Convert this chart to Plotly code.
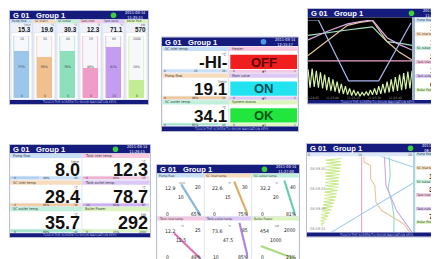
import plotly.graph_objects as go

# The page body keeps the browser's default 8px margin, so the figure is
# drawn 8px right/down inside the 439x259 window: map reference pixels accordingly.
OFF = 8
FW, FH = 431, 251
NAVY = "#161c7e"
NAVY_TXT = "#aeb8ea"
GREEN_ICON = "#3ccf3c"
BLUE_ICON = "#4a9ae8"
NARROW = "Liberation Sans Narrow, DejaVu Sans Condensed, Liberation Sans, sans-serif"
BOLD = "Liberation Sans, Arial, sans-serif"
CELL_LINE = "#c9d0e4"

# ---------------- data ----------------
channels = ["Pump flow", "SC inlet temp.", "SC outlet temp.",
            "Tank inlet temp.", "Tank outlet temp.", "Boiler Power"]
units = ["l/min", "°C", "°C", "°C", "°C", "kW"]
scale_lo = [0, 0, 0, 0, 10, 0]
scale_hi = [20, 30, 40, 25, 85, 2000]
decimals = [1, 1, 1, 1, 1, 0]
light = ["#c6dff6", "#f7dcbd", "#c0f0db", "#f7c8e1", "#ddc8f6", "#ddf4bf"]
strong = ["#9cc6ec", "#f0c08e", "#8ee0bc", "#f09cc8", "#c49cf0", "#c4ec94"]
needle = ["#86b8de", "#dcae6e", "#6ccdae", "#dc72b2", "#ac86e2", "#acda80"]

# screen 1: bar view
bar_values = [15.3, 19.6, 30.3, 12.3, 71.1, 570]

# screen 2: big digits + status
big_channel = [1, 0, 2]
big_values = [None, 19.1, 34.1]
big_text = ["-HI-", "19.1", "34.1"]
status_names = ["Heater", "Main valve", "System status"]
status_text = ["OFF", "ON", "OK"]
status_fill = ["#f01e1e", "#22e4f0", "#22e63e"]
status_dark = ["#5c0000", "#00505a", "#00561a"]

# screen 3: horizontal trend (values in % of scale)
trend_t_pump = [0, 10, 39, 68, 99]
trend_pump = [100, 100, 21, 21, 96]
trend_t = [0, 20, 38, 50, 62, 76, 88, 100]
trend_scin = [54, 75, 93, 97, 99, 72, 58, 48]
trend_scout = [80, 84, 87, 89, 91, 72, 70, 67]
trend_tkout = [74, 86, 95, 98, 100, 77, 68, 61]
trend_t_tkin = [0, 100]
trend_tkin = [47, 47]
trend_t_boiler = [0, 2, 4, 6, 8, 10, 12, 14, 16, 18, 20, 22, 24, 26, 28, 30, 32, 34,
                  36, 38, 40, 42, 44, 46, 48, 50, 52, 54, 56, 58, 60, 62, 64, 66, 68,
                  70, 72, 74, 76, 78, 80, 82, 84, 86, 88, 90, 92, 94, 96, 98, 100]
trend_boiler = [36, 12, 37, 13, 34, 12, 32, 11, 29, 9, 26, 8, 23, 7, 20, 5, 17, 4,
                14, 3, 11, 2, 9, 2, 7, 1, 6, 2, 7, 2, 9, 3, 11, 3, 14, 4, 17, 5, 20,
                6, 23, 7, 26, 8, 29, 9, 31, 10, 33, 11, 34]
trend_time_labels = ["11:24:45", "11:25:00", "11:25:15", "11:25:30", "11:25:45"]
trend_time_pos = [4, 24, 44, 64, 84]
trend_right_values = ["15.3", "14.6", "26.2", "12.3", "67.4", "456"]

# screen 4: big digits 2x3
digit_values = [8.0, 28.4, 35.7, 12.3, 78.7, 292]
digit_channel = [0, 1, 2, 3, 4, 5]

# screen 5: gauges
gauge_values = [12.9, 22.6, 32.2, 12.2, 73.6, 454]

# screen 6: vertical trend (seconds after 08:59:00 vs. value 0..20)
vt_boiler_t = [17.5, 17.9, 18.3, 18.7, 19.1, 19.5, 19.9, 20.3, 20.7, 21.1, 21.5, 21.9,
               22.3, 22.7, 23.1, 23.5, 23.9, 24.3, 24.7, 25.1, 25.5, 25.9, 26.3, 26.7,
               27.1, 27.5, 27.9, 28.3, 28.7, 29.1, 29.5, 29.9, 30.3, 30.7, 31.1, 31.5,
               31.9, 32.3, 32.7, 33.1, 33.5, 33.9, 34.3]
vt_boiler = [6.5, 3.5, 6.4, 3.6, 6.5, 3.5, 6.3, 3.5, 6.3, 3.4, 6.2, 3.5, 6.1, 3.5, 6.0,
             3.4, 6.0, 3.4, 5.9, 3.4, 5.8, 3.3, 5.6, 3.3, 5.5, 3.2, 5.3, 3.1, 5.1, 3.0,
             4.9, 2.9, 4.6, 2.8, 4.3, 2.7, 4.0, 2.6, 3.7, 2.6, 3.3, 2.7, 3.0]
vt_tkin_t = [16.9, 35.9]
vt_tkin = [10.3, 10.3]
vt_scin_t = [16.9, 18.4, 19.25, 22.6, 24.25, 28.4, 30.5, 33.8, 35.9]
vt_scin = [10.75, 10.75, 12.0, 12.0, 12.8, 13.0, 14.1, 18.2, 19.4]
vt_scout_t = [16.9, 21.75, 25.1, 28.4, 31.75, 35.9]
vt_scout = [15.5, 15.7, 15.3, 16.0, 16.4, 16.4]
vt_tkout_t = [16.9, 24.25, 30.5, 35.9]
vt_tkout = [14.6, 14.9, 16.9, 19.8]
vt_pump_t = [16.9, 19.9, 23.2, 35.9]
vt_pump = [13.8, 20.6, 20.6, 4.65]
vt_time_labels = ["08:59:20", "08:59:25", "08:59:30", "08:59:35"]
vt_time_pos = [20, 25, 30, 35]
vt_right_values = ["6.3", "19.4", "30.8", "4.6", "72.5", "448"]


def fmt(v, d):
    return f"{v:.{d}f}"


def pct(v, lo, hi):
    return (v - lo) / (hi - lo)


# ---------------- helpers (arguments in reference-image pixels) ----------------
fig = go.Figure()
shapes, annos = [], []
lay = {}


def px(x):
    return (x - OFF) / FW


def py(y):
    return 1 - (y - OFF) / FH


def xd(a, b):
    return [max(0.0, px(a)), min(1.0, px(b))]


def yd(a, b):
    return [max(0.0, py(b)), min(1.0, py(a))]


def R(x0, y0, x1, y1, fill, line=None, lw=0):
    shapes.append(dict(type="rect", xref="paper", yref="paper",
                       x0=px(x0), x1=px(x1), y0=py(y1), y1=py(y0),
                       fillcolor=fill, layer="below",
                       line=dict(color=line or "rgba(0,0,0,0)", width=lw)))


def C(x, y, r, fill):
    shapes.append(dict(type="circle", xref="paper", yref="paper",
                       x0=px(x - r), x1=px(x + r), y0=py(y + r), y1=py(y - r),
                       fillcolor=fill, line=dict(width=0), layer="below"))


def T(x, y, s, size, color="#333", anchor="left", bold=False, fam=NARROW,
      xref="paper", yref="paper"):
    annos.append(dict(xref=xref, yref=yref,
                      x=px(x) if xref == "paper" else x,
                      y=py(y) if yref == "paper" else y,
                      text=s, showarrow=False, xanchor=anchor, yanchor="middle",
                      borderpad=0,
                      font=dict(size=size, color=color, family=fam,
                                weight=700 if bold else 400)))


def frame(x0, y0, x1, y1):
    R(x0 - 0.5, y0 - 0.5, x1 + 0.5, y1 + 0.5, "white", "#8a92b8", 0.6)


def header(x0, y0, x1, date, clock, icon=GREEN_ICON):
    R(x0, y0, x1, y0 + 8.5, NAVY)
    T(x0 + 2, y0 + 4.6, "G 01", 7.6, "white", bold=True, fam=BOLD)
    T(x0 + 25, y0 + 4.6, "Group 1", 7.6, "white", bold=True, fam=BOLD)
    C(x1 - 34.5, y0 + 4.3, 2.8, icon)
    T(x1 - 0.8, y0 + 4.3, date + "<br>" + clock, 3.9, "white", anchor="right")


def footer(x0, y0, x1, y1):
    R(x0, y0, x1, y1, NAVY)
    T(x0 + 69, (y0 + y1) / 2 + 0.2, "TOUCH THE SCREEN TO SHOW NAVIGATION KEYS",
      3.3, NAVY_TXT, anchor="center")


def hidden_axis(dom, rng, anchor):
    return dict(domain=dom, range=rng, visible=False, fixedrange=True,
                anchor=anchor, showgrid=False, zeroline=False)


# ================= screen 1: bars =================
frame(10, 11, 148, 104)
header(10, 11, 148, "2011-03-14", "11:25:11")
cw = 138 / 6
for i in range(6):
    cx0 = 10 + i * cw
    R(cx0, 19.5, cx0 + cw, 100, "#eef1f9", CELL_LINE, 0.5)
    R(cx0 + 0.4, 19.8, cx0 + cw - 0.4, 23.2, light[i])
    T(cx0 + 1, 21.5, channels[i][:10], 3.1, "#3a3a3a")
    T(cx0 + cw - 1, 24.8, units[i], 3.1, "#555", anchor="right")
    T(cx0 + cw - 1, 29.0, fmt(bar_values[i], decimals[i]), 6.3, "#111",
      anchor="right", bold=True, fam=BOLD)
    R(cx0 + 1.2, 32.5, cx0 + cw - 1.2, 99.3, "white", "#d5dbea", 0.5)
footer(10, 100, 148, 104)

bar_frac = [pct(v, lo, hi) for v, lo, hi in zip(bar_values, scale_lo, scale_hi)]
idx = list(range(6))
fig.add_trace(go.Bar(x=idx, y=[1] * 6, width=0.64, xaxis="x", yaxis="y",
                     marker=dict(color="#f7f8fc", line=dict(color=strong, width=0.6)),
                     hoverinfo="skip", showlegend=False))
fig.add_trace(go.Bar(x=idx, y=bar_frac, width=0.64, xaxis="x", yaxis="y",
                     marker=dict(color=strong, line=dict(width=0)),
                     hoverinfo="skip", showlegend=False))
lay["xaxis"] = hidden_axis(xd(10, 148), [-0.5, 5.5], "y")
lay["yaxis"] = hidden_axis(yd(36, 98), [0, 1], "x")
for i in range(6):
    T(i, 38.8, str(scale_hi[i]), 3.4, "#444", anchor="center", xref="x")
    T(i, 95.8, str(scale_lo[i]), 3.4, "#444", anchor="center", xref="x")
    T(i, 67, f"{int(bar_frac[i] * 100 + 0.5)}%", 3.4, "#333", anchor="center", xref="x")

# ================= screen 2: big digits + status =================
frame(162, 37.5, 298, 131)
header(162, 37.5, 298, "2011-03-14", "12:15:17", BLUE_ICON)
rh2, top2 = 26.7, 46.5
for j in range(3):
    rt = top2 + j * rh2
    ci = big_channel[j]
    R(162.3, rt, 228.7, rt + rh2, "white", CELL_LINE, 0.4)
    R(162.5, rt + 0.3, 228.5, rt + 4.6, light[j])
    T(163.5, rt + 2.5, channels[ci], 3.7, "#3a3a3a")
    T(227.5, rt + 8, units[ci], 3.9, "#444", anchor="right")
    T(227.8, rt + 16.2, big_text[j], 17, "#111", anchor="right", bold=True, fam=BOLD)
    lo, hi = scale_lo[ci], scale_hi[ci]
    T(163.2, rt + 24.9, str(lo), 3.1, "#444")
    T(227.3, rt + 24.9, str(hi), 3.1, "#444", anchor="right")
    if big_values[j] is not None:
        T(195.5, rt + 24.9, f"{int(pct(big_values[j], lo, hi) * 100 + 0.5)}%", 3.1,
          "#333", anchor="center")
    else:
        T(195.5, rt + 24.9, str((lo + hi) // 2), 3.1, "#333", anchor="center")
    # status column
    R(228.7, rt, 297.7, rt + rh2, "white", CELL_LINE, 0.4)
    R(229, rt + 0.3, 297.5, rt + 4.6, light[3 + j])
    T(230.5, rt + 2.5, status_names[j], 3.7, "#3a3a3a")
    R(230.3, rt + 8.3, 297, rt + 22.6, status_fill[j])
    T(263.6, rt + 15.8, status_text[j], 13, status_dark[j], anchor="center",
      bold=True, fam=BOLD)
    R(229, rt + 23.4, 297.5, rt + 26.3, light[3 + j])
    T(231.5, rt + 24.9, "0", 3.1, "#444")
    T(296.5, rt + 24.9, "1", 3.1, "#444", anchor="right")
    T(263.6, rt + 24.9, "▲S", 3.1, "#444", anchor="center")
footer(162, 126.6, 298, 131)

p2_frac = [min(1, pct(v, scale_lo[c], scale_hi[c])) if v is not None else 0
           for v, c in zip(big_values, big_channel)]
rows3 = [0.92, 1.92, 2.92]
fig.add_trace(go.Bar(y=rows3, x=[1, 1, 1], orientation="h", width=0.1,
                     xaxis="x4", yaxis="y4", marker=dict(color=[light[0], light[1], light[2]]),
                     hoverinfo="skip", showlegend=False))
fig.add_trace(go.Bar(y=rows3, x=p2_frac, orientation="h", width=0.1,
                     xaxis="x4", yaxis="y4", marker=dict(color=[strong[0], strong[1], strong[2]]),
                     opacity=0.8, hoverinfo="skip", showlegend=False))
lay["xaxis4"] = hidden_axis(xd(162.5, 228.5), [0, 1], "y4")
lay["yaxis4"] = hidden_axis(yd(top2, top2 + 3 * rh2), [3, 0], "x4")

# ================= screen 3: horizontal trend =================
p3x0, p3x1 = 308, 446
frame(p3x0, 9, p3x1, 103.5)
header(p3x0, 9, p3x1, "2011-03-14", "11:26:20")
R(308, 17.5, 412, 100, "black")
R(412, 17.5, 415, 100, "#9db3cc")
R(415, 17.5, 446, 100, "white")
for i in range(6):
    et = 18.5 + i * 13.9
    R(415.3, et, 446, et + 3.8, light[i])
    T(416, et + 1.9, channels[i], 3.2, "#333")
    T(446, et + 10.3, trend_right_values[i], 7.5, "#111", anchor="right", bold=True, fam=BOLD)
footer(p3x0, 100, p3x1, 103.5)

lay["xaxis2"] = hidden_axis(xd(308, 412), [0, 100], "y2")
lay["yaxis2"] = hidden_axis(yd(20, 97), [0, 100], "x2")
trend_series = [
    (trend_t_tkin, trend_tkin, "#f2a6cc"),
    (trend_t, trend_scout, "#9ee0bf"),
    (trend_t, trend_scin, "#e6c79e"),
    (trend_t, trend_tkout, "#dcaee6"),
    (trend_t_pump, trend_pump, "#a9b6f0"),
    (trend_t_boiler, trend_boiler, "#d6f2a4"),
]
for tx, ty, col in trend_series:
    fig.add_trace(go.Scatter(x=tx, y=ty, mode="lines", xaxis="x2", yaxis="y2",
                             line=dict(color=col, width=1.2), hoverinfo="skip",
                             showlegend=False, cliponaxis=True))
for lbl, tp in zip(trend_time_labels, trend_time_pos):
    T(tp, 98.3, lbl, 3.2, "#9a9a9a", anchor="center", xref="x2")

# ================= screen 4: big digits 2x3 =================
frame(10, 145, 150, 237)
header(10, 145, 150, "2011-03-14", "11:26:15")
rh4, top4 = 26.6, 153.5
cols4 = [(10, 82), (82, 150)]
for c in range(2):
    for j in range(3):
        k = c * 3 + j
        ci = digit_channel[k]
        cx0, cx1 = cols4[c]
        rt = top4 + j * rh4
        R(cx0, rt, cx1, rt + rh4, "white", CELL_LINE, 0.4)
        R(cx0 + 0.3, rt + 0.3, cx1 - 0.3, rt + 4.6, light[ci])
        T(cx0 + 2, rt + 2.5, channels[ci], 3.7, "#3a3a3a")
        T(cx1 - 2, rt + 8, units[ci], 3.6, "#444", anchor="right")
        T(cx1 - 1.5, rt + 16.6, fmt(digit_values[k], decimals[ci]), 18, "#111",
          anchor="right", bold=True, fam=BOLD)
        T(cx0 + 2.5, rt + 24.9, str(scale_lo[ci]), 3.1, "#444")
        T(cx1 - 3, rt + 24.9, str(scale_hi[ci]), 3.1, "#444", anchor="right")
        T((cx0 + cx1) / 2, rt + 24.9,
          f"{int(pct(digit_values[k], scale_lo[ci], scale_hi[ci]) * 100 + 0.5)}%",
          3.1, "#333", anchor="center")
footer(10, 233.3, 150, 237)

for c, (ax, ay) in enumerate([("x5", "y5"), ("x6", "y6")]):
    ks = [c * 3 + j for j in range(3)]
    fr = [pct(digit_values[k], scale_lo[digit_channel[k]], scale_hi[digit_channel[k]]) for k in ks]
    fig.add_trace(go.Bar(y=rows3, x=[1, 1, 1], orientation="h", width=0.11, xaxis=ax, yaxis=ay,
                         marker=dict(color=[light[digit_channel[k]] for k in ks]),
                         hoverinfo="skip", showlegend=False))
    fig.add_trace(go.Bar(y=rows3, x=fr, orientation="h", width=0.11, xaxis=ax, yaxis=ay,
                         marker=dict(color=[strong[digit_channel[k]] for k in ks]),
                         opacity=0.6, hoverinfo="skip", showlegend=False))
    cx0, cx1 = cols4[c]
    lay["xaxis" + ax[1:]] = hidden_axis(xd(cx0 + 0.3, cx1 - 0.3), [0, 1], ay)
    lay["yaxis" + ay[1:]] = hidden_axis(yd(top4, top4 + 3 * rh4), [3, 0], ax)

# ================= screen 5: gauges =================
frame(157, 165, 299, 262)
header(157, 165, 299, "2011-03-14", "11:27:00")
gw = 142 / 3
for k in range(6):
    r_, c_ = divmod(k, 3)
    cx0 = 157 + c_ * gw
    cx1 = cx0 + gw
    st = 173.5 + r_ * 43
    R(cx0, st, cx1, st + 43, "white", CELL_LINE, 0.4)
    R(cx0 + 0.3, st + 0.3, cx1 - 0.3, st + 4, light[k])
    T(cx0 + 1, st + 2.2, channels[k], 3.3, "#3a3a3a")
    gt = st + 4
    lo, hi = scale_lo[k], scale_hi[k]
    fr = pct(gauge_values[k], lo, hi)
    T(cx0 + 13, gt + 10, fmt(gauge_values[k], decimals[k]), 5.2, "#222", anchor="center")
    T(cx0 + 25, gt + 5.5, units[k], 2.8, "#555", anchor="center")
    T(cx1 - 2.5, gt + 9.5, str(hi), 5, "#222", anchor="right")
    mid = (lo + hi) / 2
    T(cx0 + 24, gt + 19.5, str(int(mid)) if mid == int(mid) else str(mid), 5, "#222", anchor="center")
    T(cx0 + 8, gt + 36.5, str(lo), 5, "#222")
    T(cx1 - 1.5, gt + 36.5, f"{int(fr * 100 + 0.5)}%", 5, "#222", anchor="right")
    pname = "polar" if k == 0 else f"polar{k + 1}"
    lay[pname] = dict(
        domain=dict(x=xd(cx0 + 4, cx1 - 1.5), y=yd(gt + 0.5, gt + 38.5)),
        sector=[90, 180], bgcolor="rgba(0,0,0,0)",
        radialaxis=dict(visible=False, range=[0, 1], showgrid=False),
        angularaxis=dict(direction="clockwise", rotation=180, showgrid=False,
                         showline=False, showticklabels=False, ticks="inside",
                         ticklen=3.5, tickwidth=0.8, tickcolor="#8a8a8a",
                         tickvals=list(range(0, 91, 9))))
    ang = fr * 90
    fig.add_trace(go.Scatterpolar(r=[0.04, 0.98], theta=[ang, ang], mode="lines",
                                  subplot=pname, line=dict(color=needle[k], width=2.2),
                                  hoverinfo="skip", showlegend=False))

# ================= screen 6: vertical trend =================
p6x0, p6x1 = 307, 445
frame(p6x0, 144, p6x1, 236.5)
header(p6x0, 144, p6x1, "2011-03-14", "08:59:37")
R(307, 152.5, 413, 156.5, "#dce8f7")
R(307, 156.5, 413, 232.5, "white")
R(413, 152.5, 415.5, 232.5, "#a9d6e2")
R(415.5, 152.5, 445, 232.5, "white")
for i in range(6):
    et = 152.5 + i * 13.6
    R(415.8, et, 445, et + 3.6, light[i])
    T(416.3, et + 1.8, channels[i], 3.2, "#333")
    T(445, et + 10, vt_right_values[i], 7.5, "#111", anchor="right", bold=True, fam=BOLD)
footer(p6x0, 232.5, p6x1, 236.5)

lay["xaxis3"] = hidden_axis(xd(307, 413), [0, 20], "y3")
lay["yaxis3"] = hidden_axis(yd(156.5, 232.5), [36, 17], "x3")
vt_series = [
    (vt_tkin, vt_tkin_t, "#e9a6c9"),
    (vt_scin, vt_scin_t, "#e6c79e"),
    (vt_scout, vt_scout_t, "#8fdcc8"),
    (vt_tkout, vt_tkout_t, "#c9a6ea"),
    (vt_pump, vt_pump_t, "#9ccbe6"),
    (vt_boiler, vt_boiler_t, "#c9ea8c"),
]
for vx, vy, col in vt_series:
    fig.add_trace(go.Scatter(x=vx, y=vy, mode="lines", xaxis="x3", yaxis="y3",
                             line=dict(color=col, width=1.1), hoverinfo="skip",
                             showlegend=False))
for lbl, tp in zip(vt_time_labels, vt_time_pos):
    T(308.5, tp, lbl, 3.8, "#8a8a8a", yref="y3")
T(0, 154.5, "0", 3.4, "#555", xref="x3")
T(10, 154.5, "10", 3.4, "#555", anchor="center", xref="x3")
T(20, 154.5, "20", 3.4, "#555", anchor="right", xref="x3")

# ---------------- layout ----------------
fig.update_layout(
    width=FW, height=FH, margin=dict(l=0, r=0, t=0, b=0),
    paper_bgcolor="white", plot_bgcolor="rgba(0,0,0,0)",
    barmode="overlay", bargap=0, showlegend=False,
    shapes=shapes, annotations=annos, **lay,
)
fig.write_html("out.html")
